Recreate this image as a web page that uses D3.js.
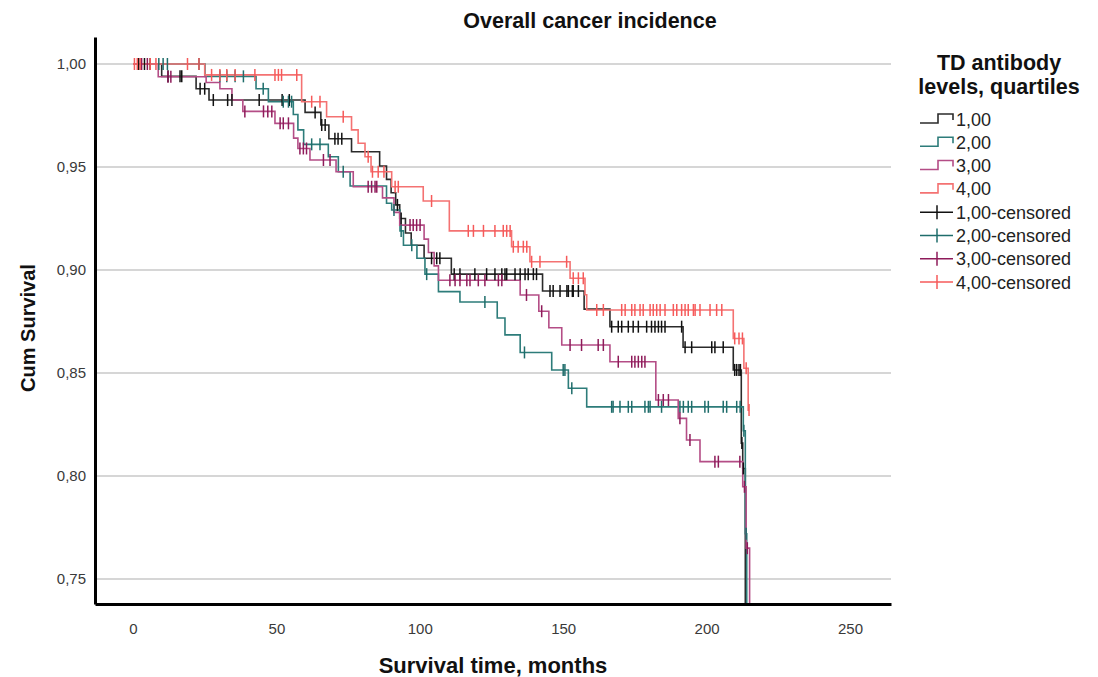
<!DOCTYPE html>
<html>
<head>
<meta charset="utf-8">
<script src="https://cdn.jsdelivr.net/npm/d3@7"></script>
<style>
  html, body { margin: 0; padding: 0; background: #fff; }
  svg { display: block; font-family: "Liberation Sans", Arial, sans-serif; }
</style>
</head>
<body>
<svg id="chart" width="1098" height="677"></svg>
<script>
// ---------------- data ----------------
const groups = ["1,00", "2,00", "3,00", "4,00"];
const yTicks = [0.75, 0.80, 0.85, 0.90, 0.95, 1.00];
const xTicks = [0, 50, 100, 150, 200, 250];

// Kaplan-Meier drops: time (months) and survival after the drop
const g1Times = [10, 22, 26.5, 60, 65.5, 68.3, 76.2, 86, 88.4, 90, 91.6, 93, 95, 97, 101.5, 111, 142.8, 157.3, 166.3, 191.8, 209.3, 212.1, 212.6, 213.5];
const g1Surv  = [0.994, 0.988, 0.9825, 0.9765, 0.9704, 0.9637, 0.9574, 0.9505, 0.944, 0.9375, 0.9316, 0.925, 0.918, 0.912, 0.9057, 0.898, 0.8898, 0.881, 0.8725, 0.8625, 0.8515, 0.816, 0.8037, 0];
const g1Cens  = [2, 4, 6, 12.2, 16.4, 17, 23.4, 25, 28, 33, 34.5, 44, 52, 54.5, 63.5, 65.8, 67, 70.4, 71.5, 72.8, 92.2, 93.5, 104.1, 105.9, 107, 112, 114, 119.2, 123.3, 126.2, 128.6, 129.7, 130.3, 133.2, 135, 136.7, 137.8, 139.6, 140.7, 145.4, 146.5, 148.9, 151.3, 151.8, 153.2, 153.5, 155.3, 166.9, 169.2, 170.4, 172.7, 174.4, 176.2, 179.1, 180.8, 182, 183.2, 184.3, 185.5, 191.3, 192.5, 194.8, 201.8, 202.9, 205.8, 209.8, 210.5, 211.3, 211.8, 212.3, 212.8];

const g2Times = [25.1, 42.9, 47.2, 55.9, 57.5, 59.5, 68.1, 71.6, 75.7, 88.4, 90.2, 93.1, 94.3, 99, 101.8, 106.5, 114, 127, 129.7, 135, 146, 151.8, 158.2, 212.8, 213.5, 214];
const g2Surv  = [0.994, 0.988, 0.9817, 0.9755, 0.968, 0.961, 0.955, 0.9477, 0.9408, 0.9324, 0.9291, 0.919, 0.912, 0.9057, 0.898, 0.8895, 0.8845, 0.8767, 0.8685, 0.860, 0.8515, 0.8426, 0.8336, 0.822, 0.772, 0];
const g2Cens  = [9, 10.5, 12, 23, 30.3, 32.7, 35.6, 38.5, 45.4, 52.4, 54.2, 55.3, 62.3, 65.2, 73.3, 91, 93.5, 97.2, 102.4, 122.7, 136.5, 150, 150.6, 153, 166.9, 167.4, 169.8, 172.7, 173.9, 178.5, 179.7, 180.3, 184.3, 190.7, 191.9, 193.6, 194.8, 199.4, 200.6, 205.8, 207, 210.5, 211.7, 213, 213.8];

const g3Times = [8.8, 25.5, 30.3, 34.5, 38.3, 49.5, 56, 57.5, 61.7, 70.8, 76.8, 87, 91, 93, 101.5, 103, 105, 106.5, 135, 141.5, 145, 149.5, 166.3, 182.3, 190.1, 193, 197.7, 212.6, 213.8, 215];
const g3Surv  = [0.9938, 0.991, 0.988, 0.9825, 0.977, 0.9712, 0.964, 0.959, 0.9534, 0.9477, 0.9404, 0.935, 0.928, 0.9218, 0.915, 0.9085, 0.902, 0.895, 0.8879, 0.880, 0.872, 0.8636, 0.8555, 0.8369, 0.828, 0.8175, 0.807, 0.7948, 0.765, 0];
const g3Cens  = [3, 5, 12.2, 13.2, 39, 45.5, 47, 48.4, 51.3, 52.4, 54.2, 58.2, 59.4, 60.5, 66.4, 68.7, 82, 83.2, 84.4, 85, 96.6, 97.7, 98.9, 100.1, 110.5, 112.3, 114, 116.4, 117.5, 120.4, 122.7, 127.4, 128.6, 137.2, 142.5, 152.4, 156.4, 162.2, 164, 169.2, 173.9, 175, 176.2, 177.4, 178.5, 183.2, 184.9, 186.7, 190.7, 194.2, 202.9, 204.1, 211.6, 213.2, 214.2];

const g4Times = [25, 58.8, 67.5, 76.2, 78.5, 80.9, 83, 90.2, 101.2, 110.3, 132, 138.4, 152.4, 157.6, 158.2, 209.3, 213, 214.5];
const g4Surv  = [0.9947, 0.9817, 0.9744, 0.968, 0.9615, 0.955, 0.9477, 0.9404, 0.9335, 0.919, 0.9113, 0.904, 0.896, 0.888, 0.8806, 0.8668, 0.8523, 0.832];
const g4Cens  = [0.5, 1.5, 2.5, 6, 8, 19, 23, 27.4, 30.3, 32.7, 35.6, 42.5, 49.5, 50.7, 51.8, 57.1, 62.3, 65.2, 73.3, 82, 83.5, 85.5, 87.5, 91.4, 92.5, 104.1, 116.9, 118.7, 122.2, 126.2, 129.1, 130.3, 131.5, 132.6, 134.3, 136.1, 137.3, 139, 141.9, 151.2, 153.5, 155.3, 157, 161.7, 164, 170.4, 171.6, 173.9, 175, 176.8, 177.9, 180.3, 181.4, 182.6, 183.8, 185.5, 188.4, 189.6, 191.3, 192.5, 193.6, 195.4, 196, 197.7, 201.2, 203.5, 205.3, 209.8, 211.3, 212.5, 213.8, 214.8];

// ---------------- styles ----------------
const lineColors = ["#2b2b2b", "#2d7c7a", "#b44d86", "#f47272"];
const censColors = ["#111111", "#1f6d6b", "#8e1b5a", "#f65a5a"];

const series = [
  {times: g1Times, surv: g1Surv, cens: g1Cens},
  {times: g2Times, surv: g2Surv, cens: g2Cens},
  {times: g3Times, surv: g3Surv, cens: g3Cens},
  {times: g4Times, surv: g4Surv, cens: g4Cens}
];

const svg = d3.select("#chart");
const plot = {left: 95, right: 891, top: 37, bottom: 604};

const x = d3.scaleLinear().domain([-13.25, 264.3]).range([plot.left, plot.right]);
const y = d3.scaleLinear().domain([0.7379, 1.0131]).range([plot.bottom, plot.top]);

const fmt = v => d3.format(".2f")(v).replace(".", ",");

svg.append("defs").append("clipPath").attr("id", "clip")
  .append("rect")
  .attr("x", plot.left).attr("y", plot.top)
  .attr("width", plot.right - plot.left).attr("height", plot.bottom - plot.top);

// gridlines
svg.append("g").selectAll("line").data(yTicks).join("line")
  .attr("x1", plot.left).attr("x2", plot.right)
  .attr("y1", d => y(d)).attr("y2", d => y(d))
  .attr("stroke", "#c9c9c9").attr("stroke-width", 1.5);

// curves
const lineGen = d3.line().x(d => x(d[0])).y(d => y(d[1])).curve(d3.curveStepAfter);
const curveG = svg.append("g").attr("clip-path", "url(#clip)");
const markG = svg.append("g").attr("clip-path", "url(#clip)");

function survAt(s, t) {
  let v = 1;
  for (let i = 0; i < s.times.length; i++) if (s.times[i] <= t) v = s.surv[i];
  return v;
}

series.forEach((s, i) => {
  const pts = [[0, 1]];
  s.times.forEach((t, k) => pts.push([t, s.surv[k]]));
  const endT = Math.max(s.times[s.times.length - 1], d3.max(s.cens));
  const last = pts[pts.length - 1];
  if (endT > last[0]) pts.push([endT, last[1]]);
  curveG.append("path").datum(pts)
    .attr("d", lineGen)
    .attr("fill", "none")
    .attr("stroke", lineColors[i])
    .attr("stroke-width", 1.6);
});

series.forEach((s, i) => {
  markG.append("g").selectAll("line").data(s.cens).join("line")
    .attr("x1", d => x(d)).attr("x2", d => x(d))
    .attr("y1", d => y(survAt(s, d)) - 6)
    .attr("y2", d => y(survAt(s, d)) + 6)
    .attr("stroke", censColors[i]).attr("stroke-width", 1.5);
});

// axes
const yAxis = d3.axisLeft(y).tickValues(yTicks).tickFormat(fmt).tickSize(0).tickPadding(9);
const yg = svg.append("g").attr("transform", `translate(${plot.left},0)`).call(yAxis);
const xAxis = d3.axisBottom(x).tickValues(xTicks).tickFormat(d3.format("d")).tickSize(0).tickPadding(19);
const xg = svg.append("g").attr("transform", `translate(0,${plot.bottom})`).call(xAxis);
[yg, xg].forEach(g => {
  g.select(".domain").attr("stroke", "#000").attr("stroke-width", 3);
  g.selectAll("text").attr("font-size", 15).attr("fill", "#3a3a3a")
    .attr("font-family", "'Liberation Sans', Arial, sans-serif");
});

// titles
svg.append("text").attr("x", 590).attr("y", 28).attr("text-anchor", "middle")
  .attr("font-size", 21.5).attr("font-weight", "bold").attr("fill", "#111")
  .text("Overall cancer incidence");
svg.append("text").attr("x", 493).attr("y", 673).attr("text-anchor", "middle")
  .attr("font-size", 22).attr("font-weight", "bold").attr("fill", "#111")
  .text("Survival time, months");
svg.append("text").attr("transform", "translate(35,328) rotate(-90)").attr("text-anchor", "middle")
  .attr("font-size", 20).attr("font-weight", "bold").attr("fill", "#111")
  .text("Cum Survival");

// legend
const lg = svg.append("g");
lg.append("text").attr("x", 999).attr("y", 70).attr("text-anchor", "middle")
  .attr("font-size", 21.5).attr("font-weight", "bold").attr("fill", "#111").text("TD antibody");
lg.append("text").attr("x", 999).attr("y", 94).attr("text-anchor", "middle")
  .attr("font-size", 21.5).attr("font-weight", "bold").attr("fill", "#111").text("levels, quartiles");

const legendRowY = d3.scaleLinear().domain([0, 7]).range([119, 282]);
groups.forEach((g, i) => {
  const yy = legendRowY(i);
  lg.append("path")
    .attr("d", `M920,${yy + 4}H938V${yy - 5}H953V${yy + 1}`)
    .attr("fill", "none").attr("stroke", lineColors[i]).attr("stroke-width", 1.6);
  lg.append("text").attr("x", 956).attr("y", yy + 6.5).attr("font-size", 18).attr("fill", "#222").text(g);
});
groups.forEach((g, i) => {
  const yy = legendRowY(i + 4);
  lg.append("line").attr("x1", 920).attr("x2", 953).attr("y1", yy).attr("y2", yy)
    .attr("stroke", censColors[i]).attr("stroke-width", 1.5);
  lg.append("line").attr("x1", 937).attr("x2", 937).attr("y1", yy - 7).attr("y2", yy + 7)
    .attr("stroke", censColors[i]).attr("stroke-width", 1.5);
  lg.append("text").attr("x", 956).attr("y", yy + 6.5).attr("font-size", 18).attr("fill", "#222").text(g + "-censored");
});
</script>
</body>
</html>
